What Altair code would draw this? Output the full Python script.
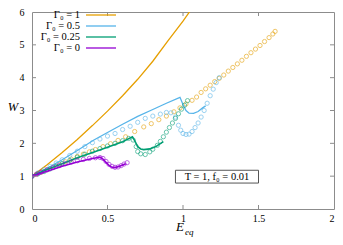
import altair as alt
import pandas as pd

series_names = ["Γ₀ = 1", "Γ₀ = 0.5", "Γ₀ = 0.25", "Γ₀ = 0"]
series_colors = ["#e69f00", "#56b4e9", "#009e73", "#9400d3"]

x_ticks = [0, 0.5, 1, 1.5, 2]
y_ticks = [0, 1, 2, 3, 4, 5, 6]

# ---- lines (E_eq, W) ----
line_orange_E = [0, 0.1, 0.2, 0.3, 0.4, 0.5, 0.6, 0.7, 0.8, 0.9, 1.0, 1.05]
line_orange_W = [1, 1.35, 1.72, 2.12, 2.54, 2.98, 3.45, 3.95, 4.5, 5.12, 5.72, 6.05]

line_blue_E = [0, 0.05, 0.1, 0.2, 0.3, 0.41, 0.5, 0.6, 0.7, 0.8, 0.89, 0.98, 1.0, 1.02, 1.04, 1.07, 1.1, 1.13, 1.15]
line_blue_W = [1, 1.12, 1.24, 1.5, 1.78, 2.1, 2.33, 2.58, 2.82, 3.03, 3.22, 3.4, 3.18, 3.0, 2.92, 2.91, 2.97, 3.08, 3.14]

line_green_E = [0, 0.1, 0.2, 0.3, 0.42, 0.5, 0.6, 0.665, 0.68, 0.70, 0.72, 0.74, 0.78, 0.82, 0.87]
line_green_W = [1, 1.2, 1.38, 1.56, 1.75, 1.88, 2.05, 2.2, 2.08, 1.9, 1.83, 1.81, 1.83, 1.9, 2.05]

line_purple_E = [0, 0.1, 0.2, 0.3, 0.4, 0.45, 0.47, 0.49, 0.51, 0.53, 0.55, 0.58, 0.6, 0.62]
line_purple_W = [1, 1.15, 1.3, 1.43, 1.54, 1.58, 1.52, 1.42, 1.33, 1.27, 1.26, 1.3, 1.34, 1.38]

# ---- circles (E_eq, W) ----
pts_orange_E = [0, 0.03, 0.06, 0.1, 0.14, 0.18, 0.22, 0.26, 0.3, 0.34, 0.38, 0.42, 0.47, 0.52,
                0.57, 0.62, 0.68, 0.74, 0.79, 0.84, 0.89, 0.94, 0.98, 1.02, 1.06, 1.09, 1.12,
                1.15, 1.18, 1.21, 1.24, 1.27, 1.30, 1.33, 1.36, 1.39, 1.42, 1.45, 1.48, 1.51,
                1.54, 1.57, 1.595, 1.61]
pts_orange_W = [1, 1.06, 1.12, 1.2, 1.28, 1.36, 1.44, 1.52, 1.6, 1.67, 1.74, 1.81, 1.9, 1.99,
                2.09, 2.2, 2.36, 2.5, 2.6, 2.72, 2.83, 2.96, 3.08, 3.2, 3.31, 3.41, 3.55,
                3.66, 3.77, 3.88, 3.98, 4.08, 4.2, 4.31, 4.42, 4.53, 4.65, 4.76, 4.87, 4.98,
                5.1, 5.22, 5.33, 5.41]

pts_blue_E = [0, 0.04, 0.08, 0.12, 0.16, 0.2, 0.25, 0.3, 0.35, 0.4, 0.45, 0.5, 0.55, 0.6, 0.65,
              0.7, 0.75, 0.8, 0.85, 0.89, 0.92, 0.95, 0.97, 0.985, 1.0, 1.02, 1.04, 1.06, 1.08,
              1.1, 1.12, 1.14, 1.16, 1.18, 1.2, 1.22, 1.24]
pts_blue_W = [1, 1.1, 1.2, 1.3, 1.4, 1.5, 1.63, 1.76, 1.9, 2.02, 2.13, 2.22, 2.3, 2.42, 2.52,
              2.64, 2.76, 2.83, 2.89, 2.94, 2.93, 2.8, 2.55, 2.4, 2.3, 2.27, 2.28, 2.36, 2.48,
              2.62, 2.8, 3.0, 3.22, 3.45, 3.65, 3.85, 4.0]

pts_green_E = [0, 0.04, 0.08, 0.12, 0.16, 0.2, 0.25, 0.3, 0.35, 0.4, 0.45, 0.5, 0.55, 0.6, 0.64,
               0.67, 0.69, 0.70, 0.72, 0.75, 0.78, 0.80, 0.83, 0.85, 0.87, 0.89, 0.91, 0.93,
               0.95, 0.97, 0.99, 1.01, 1.03]
pts_green_W = [1, 1.07, 1.14, 1.22, 1.3, 1.38, 1.48, 1.58, 1.67, 1.76, 1.84, 1.92, 2.0, 2.08, 2.15,
               2.1, 1.9, 1.75, 1.68, 1.66, 1.74, 1.82, 1.94, 2.06, 2.2, 2.34, 2.48, 2.62,
               2.76, 2.9, 3.04, 3.16, 3.3]

pts_purple_E = [0, 0.03, 0.06, 0.1, 0.14, 0.18, 0.22, 0.26, 0.3, 0.34, 0.38, 0.42, 0.45, 0.47,
                0.49, 0.51, 0.53, 0.55, 0.57, 0.59, 0.61, 0.63]
pts_purple_W = [1, 1.06, 1.12, 1.19, 1.26, 1.32, 1.38, 1.43, 1.47, 1.51, 1.54, 1.56, 1.57, 1.54,
                1.45, 1.36, 1.3, 1.27, 1.28, 1.32, 1.37, 1.41]

lines = [(line_orange_E, line_orange_W), (line_blue_E, line_blue_W),
         (line_green_E, line_green_W), (line_purple_E, line_purple_W)]
points = [(pts_orange_E, pts_orange_W), (pts_blue_E, pts_blue_W),
          (pts_green_E, pts_green_W), (pts_purple_E, pts_purple_W)]

W_PLOT, H_PLOT = 302, 197
GRAY = "#8c8c8c"
FONT = "Liberation Serif"

xs = alt.Scale(domain=[0, 2], nice=False, zero=False)
ys = alt.Scale(domain=[0, 6], nice=False, zero=False)
cs = alt.Scale(domain=series_names, range=series_colors)

x_axis = alt.Axis(values=x_ticks, ticks=False, domain=False, grid=False, title=None,
                  format="~g", labelFont=FONT, labelFontSize=10, labelPadding=4,
                  labelColor="black", labelOverlap=False)
y_axis = alt.Axis(values=y_ticks, ticks=False, domain=False, grid=False, title=None,
                  format="~g", labelFont=FONT, labelFontSize=10, labelPadding=8,
                  labelColor="black", labelOverlap=False)

layers = []
for i, name in enumerate(series_names):
    le, lw = lines[i]
    pe, pw = points[i]
    dl = pd.DataFrame({"E": le, "W": lw, "s": name, "o": range(len(le))})
    dp = pd.DataFrame({"E": pe, "W": pw, "s": name})
    layers.append(
        alt.Chart(dp).mark_point(shape="circle", size=18, strokeWidth=1, opacity=0.6,
                                 filled=False, clip=True).encode(
            x=alt.X("E:Q", scale=xs, axis=x_axis),
            y=alt.Y("W:Q", scale=ys, axis=y_axis),
            color=alt.Color("s:N", scale=cs, legend=None),
        )
    )
    layers.append(
        alt.Chart(dl).mark_line(strokeWidth=1.3 if i < 2 else 1.6, clip=True).encode(
            x=alt.X("E:Q", scale=xs, axis=x_axis),
            y=alt.Y("W:Q", scale=ys, axis=y_axis),
            order="o:Q",
            color=alt.Color("s:N", scale=cs, legend=None),
        )
    )

# inward ticks (mirrored)
xt = pd.DataFrame({"E": x_ticks[1:-1]})
yt = pd.DataFrame({"W": y_ticks[1:-1]})
layers.append(alt.Chart(xt).mark_rule(color=GRAY).encode(
    x=alt.X("E:Q", scale=xs, axis=x_axis), y=alt.value(H_PLOT), y2=alt.value(H_PLOT - 4)))
layers.append(alt.Chart(xt).mark_rule(color=GRAY).encode(
    x=alt.X("E:Q", scale=xs, axis=x_axis), y=alt.value(0), y2=alt.value(4)))
layers.append(alt.Chart(yt).mark_rule(color=GRAY).encode(
    y=alt.Y("W:Q", scale=ys, axis=y_axis), x=alt.value(0), x2=alt.value(4)))
layers.append(alt.Chart(yt).mark_rule(color=GRAY).encode(
    y=alt.Y("W:Q", scale=ys, axis=y_axis), x=alt.value(W_PLOT), x2=alt.value(W_PLOT - 4)))

# key (label left, sample line right, as in gnuplot)
legend_y = [3, 14, 25, 36]
for i, name in enumerate(series_names):
    d = pd.DataFrame({"t": [name]})
    layers.append(alt.Chart(d).mark_text(align="right", baseline="middle", font=FONT,
                                         fontSize=10.5, color="black").encode(
        text="t:N", x=alt.value(48), y=alt.value(legend_y[i])))
    layers.append(alt.Chart(d).mark_rule(color=series_colors[i], strokeWidth=1.3).encode(
        x=alt.value(54), x2=alt.value(84), y=alt.value(legend_y[i])))

# annotation box
box = pd.DataFrame({"t": ["T = 1,  f₀ = 0.01"]})
layers.append(alt.Chart(box).mark_rect(fill="white", stroke="#555555", strokeWidth=1).encode(
    x=alt.datum(0.95, scale=xs, axis=x_axis), x2=alt.datum(1.50),
    y=alt.datum(0.79, scale=ys, axis=y_axis), y2=alt.datum(1.18)))
layers.append(alt.Chart(box).mark_text(font=FONT, fontSize=10.5, color="black",
                                       baseline="middle").encode(
    text="t:N", x=alt.datum(1.225, scale=xs, axis=x_axis),
    y=alt.datum(0.985, scale=ys, axis=y_axis)))

# axis titles
layers.append(alt.Chart(pd.DataFrame({"t": ["W"]})).mark_text(
    font=FONT, fontSize=12.5, fontStyle="italic", color="black", baseline="middle").encode(
    text="t:N", x=alt.value(-19), y=alt.value(95)))
layers.append(alt.Chart(pd.DataFrame({"t": ["E"]})).mark_text(
    font=FONT, fontSize=13, fontStyle="italic", color="black", baseline="alphabetic",
    align="right").encode(text="t:N", x=alt.value(152), y=alt.value(219)))
layers.append(alt.Chart(pd.DataFrame({"t": ["eq"]})).mark_text(
    font=FONT, fontSize=9, fontStyle="italic", color="black", baseline="alphabetic",
    align="left").encode(text="t:N", x=alt.value(153), y=alt.value(223)))

chart = alt.layer(*layers).properties(
    width=W_PLOT, height=H_PLOT,
    autosize=alt.AutoSizeParams(type="none"),
    padding={"left": 24, "top": 4, "right": 1, "bottom": 28},
).configure_view(stroke=GRAY, strokeWidth=1)

chart.save("out.html", embed_options={"renderer": "svg", "actions": False})
